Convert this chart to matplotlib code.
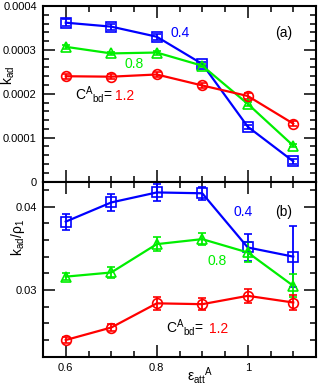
import matplotlib
matplotlib.use("Agg")
import matplotlib.pyplot as plt
from matplotlib.ticker import MultipleLocator, FuncFormatter

plt.rcParams['font.family'] = ['Liberation Sans', 'DejaVu Sans']
plt.rcParams['mathtext.fontset'] = 'custom'
plt.rcParams['mathtext.rm'] = 'Liberation Sans'
plt.rcParams['mathtext.it'] = 'Liberation Sans'
plt.rcParams['mathtext.bf'] = 'Liberation Sans:bold'
plt.rcParams['mathtext.default'] = 'regular'

# ---- data ----
eps = [0.6, 0.7, 0.8, 0.9, 1.0, 1.1]
labels_c = ["0.4", "0.8", "1.2"]

kad_04 = [0.000362, 0.000353, 0.000330, 0.000268, 0.000125, 0.0000462]
kad_08 = [0.000307, 0.000292, 0.000294, 0.000264, 0.000177, 0.0000818]
kad_12 = [0.000240, 0.000239, 0.000244, 0.000219, 0.000195, 0.000132]
kad_04_err = [0.0000076, 0.0000070, 0.0000065, 0.0000050, 0.0000050, 0.0000060]
kad_08_err = [0.0000045, 0.0000040, 0.0000045, 0.0000040, 0.0000045, 0.0000040]
kad_12_err = [0.0000060, 0.0000060, 0.0000065, 0.0000050, 0.0000060, 0.0000055]

kr_04 = [0.0382, 0.0405, 0.0417, 0.0416, 0.0351, 0.0340]
kr_08 = [0.0316, 0.0321, 0.0355, 0.0361, 0.0345, 0.0305]
kr_12 = [0.0240, 0.0255, 0.0284, 0.0283, 0.0293, 0.0285]
kr_04_err = [0.00096, 0.0010, 0.0010, 0.0008, 0.0016, 0.0037]
kr_08_err = [0.00045, 0.0007, 0.0008, 0.0007, 0.0012, 0.0014]
kr_12_err = [0.00036, 0.00045, 0.0008, 0.0007, 0.00085, 0.0009]

colors = ['#0000ff', '#00ee00', '#ff0000']
markers = ['s', '^', 'o']

W, H = 325, 392
fig = plt.figure(figsize=(W / 100, H / 100), dpi=100)
L, R = 43 / W, 316 / W
T, M, B = 1 - 6 / H, 1 - 181.6 / H, 1 - 356.7 / H
ax1 = fig.add_axes([L, M, R - L, T - M])
ax2 = fig.add_axes([L, B, R - L, M - B])

fmt = FuncFormatter(lambda v, p: '%g' % round(v, 8))

def style(ax):
    for s in ax.spines.values():
        s.set_linewidth(1.5)
    ax.tick_params(which='both', direction='in', top=True, right=True,
                   labelsize=8, pad=4.5)
    ax.tick_params(which='major', length=8.5, width=1.1)
    ax.tick_params(which='minor', length=4.5, width=1.1)
    ax.set_xlim(0.55, 1.15)
    ax.xaxis.set_major_locator(MultipleLocator(0.2))
    ax.xaxis.set_minor_locator(MultipleLocator(0.05))
    ax.xaxis.set_major_formatter(fmt)
    ax.yaxis.set_major_formatter(fmt)

def draw(ax, series, errs):
    for y, e, c, m in zip(series, errs, colors, markers):
        ax.errorbar(eps, y, yerr=e, color=c, marker=m, ms=7, mfc='none',
                    mec=c, mew=1.2, lw=1.6, elinewidth=1.3, capsize=3,
                    capthick=1.3, zorder=3)

style(ax1)
style(ax2)

draw(ax1, [kad_04, kad_08, kad_12], [kad_04_err, kad_08_err, kad_12_err])
ax1.set_ylim(0, 0.0004)
ax1.yaxis.set_major_locator(MultipleLocator(0.0001))
ax1.yaxis.set_minor_locator(MultipleLocator(0.00002))
ax1.tick_params(axis='x', labelbottom=False)
ax1.set_ylabel(r'$k_{ad}$', fontsize=10)
ax1.yaxis.set_label_coords(-0.095, 0.607)

draw(ax2, [kr_04, kr_08, kr_12], [kr_04_err, kr_08_err, kr_12_err])
ax2.set_ylim(0.022, 0.043)
ax2.yaxis.set_major_locator(MultipleLocator(0.01))
ax2.yaxis.set_minor_locator(MultipleLocator(0.002))
ax2.set_ylabel(r'$k_{ad}/\rho_{1}$', fontsize=10)
ax2.yaxis.set_label_coords(-0.059, 0.681)
ax2.set_xlabel(r'$ε_{att}{}^{A}$', fontsize=10)
ax2.xaxis.set_label_coords(0.575, -0.05)

fs = 10
ax1.text(0.852, 0.000339, labels_c[0], color=colors[0], fontsize=fs, ha='center', va='center')
ax1.text(0.751, 0.000269, labels_c[1], color=colors[1], fontsize=fs, ha='center', va='center')
ax1.text(1.078, 0.000338, '(a)', color='black', fontsize=fs, ha='center', va='center')
ax1.text(0.620, 0.000186, r'$C^{A}{}_{bd}$=', color='black', fontsize=fs, ha='left', va='baseline')
ax1.text(0.7075, 0.000186, labels_c[2], color=colors[2], fontsize=fs, ha='left', va='baseline')

ax2.text(0.990, 0.0393, labels_c[0], color=colors[0], fontsize=fs, ha='center', va='center')
ax2.text(0.932, 0.0335, labels_c[1], color=colors[1], fontsize=fs, ha='center', va='center')
ax2.text(1.078, 0.0393, '(b)', color='black', fontsize=fs, ha='center', va='center')
ax2.text(0.821, 0.0249, r'$C^{A}{}_{bd}$=', color='black', fontsize=fs, ha='left', va='baseline')
ax2.text(0.914, 0.0249, labels_c[2], color=colors[2], fontsize=fs, ha='left', va='baseline')

fig.savefig('out.png', dpi=100)
